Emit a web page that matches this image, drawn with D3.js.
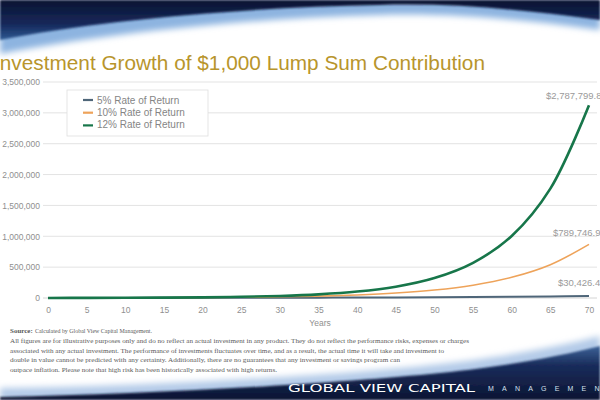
<!DOCTYPE html>
<html lang="en">
<head>
<meta charset="UTF-8">
<title>Investment Growth of $1,000 Lump Sum Contribution</title>
<script src="https://d3js.org/d3.v7.min.js"></script>
<style>
    body { margin: 0; background: #fff; overflow: hidden; }
    svg { display: block; }
    .tick-label { font-family: "Liberation Sans", Arial, sans-serif; font-size: 8.5px; fill: #8f8f8f; }
    .legend-text { font-family: "Liberation Sans", Arial, sans-serif; font-size: 10px; fill: #858585; }
    .end-label { font-family: "Liberation Sans", Arial, sans-serif; font-size: 9.5px; fill: #9a9a9a; }
    .note { font-family: "Liberation Serif", "Times New Roman", serif; font-size: 7px; fill: #5a5a5a; }
</style>
</head>
<body>
<svg id="chart" width="600" height="400"></svg>
<script>
// data: value of $1,000 by year
const years = [0, 5, 10, 15, 20, 25, 30, 35, 40, 45, 50, 55, 60, 65, 70];
const rate5  = [1050, 1340, 1710, 2183, 2786, 3556, 4538, 5792, 7392, 9434, 12041, 15367, 19613, 25032, 31948];
const rate10 = [1100, 1772, 2853, 4595, 7400, 11918, 19194, 30913, 49785, 80180, 129130, 207965, 334930, 539408, 868722];
const rate12 = [1120, 1974, 3479, 6130, 10804, 19040, 33555, 59136, 104217, 183666, 323681, 570434, 1005300, 1771700, 3122336];
const seriesNames = ["5% Rate of Return", "10% Rate of Return", "12% Rate of Return"];
const endLabels = ["$30,426.43", "$789,746.97", "$2,787,799.80"];
const yTicks = [0, 500000, 1000000, 1500000, 2000000, 2500000, 3000000, 3500000];
const xTicks = years;

const colors = ["#4f6679", "#eea35a", "#17764a"];
const widths = [2, 1.6, 2.6];

const svg = d3.select("#chart");
const defs = svg.append("defs");

// header / footer decoration
defs.append("filter").attr("id", "blur").attr("x", "-10%").attr("y", "-50%").attr("width", "120%").attr("height", "200%")
    .append("feGaussianBlur").attr("stdDeviation", 3);
defs.append("filter").attr("id", "blur2").attr("x", "-10%").attr("y", "-50%").attr("width", "120%").attr("height", "200%")
    .append("feGaussianBlur").attr("stdDeviation", 1.2);

const topGrad = defs.append("linearGradient").attr("id", "topGrad").attr("x1", 0).attr("y1", 0).attr("x2", 0).attr("y2", 1);
topGrad.append("stop").attr("offset", "0%").attr("stop-color", "#0c1431");
topGrad.append("stop").attr("offset", "60%").attr("stop-color", "#15285a");
topGrad.append("stop").attr("offset", "100%").attr("stop-color", "#2f5a93");

const botGrad = defs.append("linearGradient").attr("id", "botGrad").attr("x1", 0).attr("y1", 0).attr("x2", 0).attr("y2", 1);
botGrad.append("stop").attr("offset", "0%").attr("stop-color", "#3d6398");
botGrad.append("stop").attr("offset", "35%").attr("stop-color", "#1a2d5c");
botGrad.append("stop").attr("offset", "100%").attr("stop-color", "#0c1533");

svg.append("path")
    .attr("d", "M0,0 H600 V30 C520,19 450,13 380,15 C250,18 100,34 0,54 Z")
    .attr("fill", "#8db4e0").attr("filter", "url(#blur)");
svg.append("path")
    .attr("d", "M0,0 H600 V20 C520,9 450,3 380,5 C250,7 100,20 0,40 Z")
    .attr("fill", "url(#topGrad)").attr("filter", "url(#blur2)");

svg.append("path")
    .attr("d", "M0,400 V388 C150,386 330,376 440,364 C510,356 560,346 600,336 V400 Z")
    .attr("fill", "#b4cbe8").attr("filter", "url(#blur)");
svg.append("path")
    .attr("d", "M0,400 V397 C150,394 330,384 440,373 C510,366 560,356 600,346 V400 Z")
    .attr("fill", "url(#botGrad)").attr("filter", "url(#blur2)");

// title
svg.append("text")
    .attr("x", -6).attr("y", 70)
    .attr("textLength", 491).attr("lengthAdjust", "spacingAndGlyphs")
    .style("font-family", "'Liberation Sans', Arial, sans-serif")
    .style("font-size", "21px")
    .style("fill", "#b8952c")
    .text("Investment Growth of $1,000 Lump Sum Contribution");

// scales
const x = d3.scaleLinear().domain([0, 70]).range([48, 589]);
const y = d3.scaleLinear().domain([0, 3500000]).range([298, 82]);

// gridlines
svg.append("g").selectAll("line").data(yTicks).join("line")
    .attr("x1", 43).attr("x2", 597)
    .attr("y1", d => y(d)).attr("y2", d => y(d))
    .attr("stroke", d => d === 0 ? "#d4d4d4" : "#e3e3e3").attr("stroke-width", 1);

// y axis labels
const yAxis = svg.append("g").attr("transform", "translate(40,0)")
    .call(d3.axisLeft(y).tickValues(yTicks).tickSize(0).tickPadding(0).tickFormat(d3.format(",")));
yAxis.select(".domain").remove();
yAxis.selectAll("text").attr("class", "tick-label").attr("font-family", null).attr("font-size", null).attr("fill", null);

// x axis labels
const xAxis = svg.append("g").attr("transform", "translate(0,307)")
    .call(d3.axisBottom(x).tickValues(xTicks).tickSize(0).tickPadding(0));
xAxis.select(".domain").remove();
xAxis.selectAll("text").attr("class", "tick-label").attr("font-family", null).attr("font-size", null).attr("fill", null);

svg.append("text").attr("class", "tick-label")
    .attr("x", 320).attr("y", 326).attr("text-anchor", "middle").text("Years");

// lines
const series = [rate5, rate10, rate12];
const line = d3.line()
    .x((d, i) => x(years[i]))
    .y(d => y(d))
    .curve(d3.curveCatmullRom.alpha(0.5));

series.forEach((s, i) => {
    svg.append("path")
        .datum(s)
        .attr("fill", "none")
        .attr("stroke", colors[i])
        .attr("stroke-width", widths[i])
        .attr("d", line);
});

// end value labels
const labelPos = [[558, 285.5], [553, 235.5], [546, 98.5]];
endLabels.forEach((t, i) => {
    svg.append("text").attr("class", "end-label")
        .attr("x", labelPos[i][0]).attr("y", labelPos[i][1]).text(t);
});

// legend
const legend = svg.append("g").attr("transform", "translate(67,90)");
legend.append("rect").attr("width", 141).attr("height", 46)
    .attr("fill", "#fff").attr("stroke", "#dedede").attr("stroke-width", 0.8);
seriesNames.forEach((n, i) => {
    const ly = 10 + i * 12.2;
    legend.append("line").attr("x1", 16).attr("x2", 26).attr("y1", ly + i * 0.5).attr("y2", ly + i * 0.5)
        .attr("stroke", colors[i]).attr("stroke-width", 2.2);
    legend.append("text").attr("class", "legend-text").attr("x", 30).attr("y", ly + 3.5).text(n);
});

// footnote
svg.append("text").attr("class", "note")
    .attr("x", 10).attr("y", 333)
    .style("font-weight", "bold")
    .text("Source:");
const notes = [
    ["Calculated by Global View Capital Management.", 35, 152],
    ["All figures are for illustrative purposes only and do no reflect an actual investment in any product.  They do not reflect the performance risks, expenses or charges", 10, 469],
    ["associated with any actual investment. The performance of investments fluctuates over time, and as a result, the actual time it will take and investment to", 10, 444],
    ["double in value cannot be predicted with any certainty.  Additionally, there are no guarantees that any investment or savings program can", 10, 400],
    ["outpace inflation.  Please note that high risk has been historically associated with high returns.", 10, 277]
];
notes.forEach((n, i) => {
    svg.append("text").attr("class", "note")
        .attr("x", n[1]).attr("y", 333 + i * 9.8)
        .attr("textLength", n[2] - n[1]).attr("lengthAdjust", "spacingAndGlyphs")
        .text(n[0]);
});

// logo
svg.append("text")
    .attr("x", 288).attr("y", 392)
    .attr("textLength", 187).attr("lengthAdjust", "spacingAndGlyphs")
    .style("font-family", "'DejaVu Sans', sans-serif")
    .style("font-size", "11px")
    .style("fill", "#ffffff")
    .text("GLOBAL VIEW CAPITAL");
svg.append("text")
    .attr("x", 488).attr("y", 391)
    .style("font-family", "'Liberation Sans', Arial, sans-serif")
    .style("font-size", "7px")
    .style("letter-spacing", "8.2px")
    .style("fill", "#d8e0ee")
    .text("MANAGEMENT");
</script>
</body>
</html>
